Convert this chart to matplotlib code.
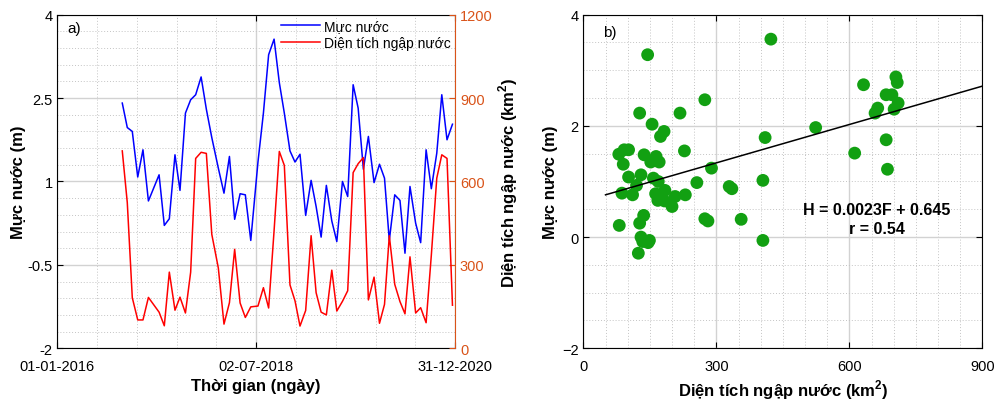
import matplotlib
matplotlib.use("Agg")
import matplotlib.pyplot as plt
import matplotlib.dates as mdates
import numpy as np
import pandas as pd

plt.rcParams['font.family'] = ['Liberation Sans', 'DejaVu Sans']
plt.rcParams['mathtext.fontset'] = 'custom'
plt.rcParams['mathtext.rm'] = 'Liberation Sans'
plt.rcParams['mathtext.bf'] = 'Liberation Sans:bold'

# ngay chup anh
ngay = ['2016-10-25', '2016-11-17', '2016-12-10', '2017-01-04', '2017-01-28', '2017-02-22',
        '2017-04-12', '2017-05-06', '2017-05-29', '2017-06-24', '2017-07-17', '2017-08-11',
        '2017-09-04', '2017-09-27', '2017-10-22', '2017-11-15', '2017-12-10', '2018-01-09',
        '2018-02-04', '2018-03-01', '2018-03-25', '2018-04-19', '2018-05-13', '2018-06-07',
        '2018-07-10', '2018-08-04', '2018-08-28', '2018-09-22', '2018-10-16', '2018-11-08',
        '2018-12-04', '2018-12-27', '2019-01-19', '2019-02-14', '2019-03-11', '2019-04-03',
        '2019-04-26', '2019-05-20', '2019-06-14', '2019-07-07', '2019-08-02', '2019-08-26',
        '2019-09-20', '2019-10-13', '2019-11-06', '2019-11-29', '2019-12-25', '2020-01-19',
        '2020-02-11', '2020-03-04', '2020-03-29', '2020-04-22', '2020-05-15', '2020-06-07',
        '2020-07-03', '2020-07-26', '2020-08-20', '2020-09-13', '2020-10-08', '2020-10-31',
        '2020-11-24', '2020-12-19']

# muc nuoc (m)
muc_nuoc = [2.41, 1.97, 1.90, 1.08, 1.57, 0.65, 1.12, 0.21, 0.33, 1.48, 0.84, 2.23,
            2.47, 2.56, 2.88, 2.30, 1.79, 1.24, 0.79, 1.45, 0.32, 0.78, 0.76, -0.06,
            1.35, 2.23, 3.28, 3.56, 2.78, 2.23, 1.55, 1.35, 1.49, 0.39, 1.02, 0.55,
            0.00, 0.93, 0.29, -0.08, 1.00, 0.73, 2.74, 2.32, 1.22, 1.81, 0.98, 1.31,
            1.06, -0.06, 0.76, 0.66, -0.29, 0.91, 0.25, -0.10, 1.57, 0.87, 1.51, 2.56,
            1.75, 2.03]

# dien tich ngap nuoc (km2)
dien_tich = [710, 524, 182, 102, 102, 183, 130, 81, 274, 137, 184, 127,
             274, 683, 705, 701, 410, 289, 87, 164, 356, 163, 111, 149,
             152, 218, 145, 423, 708, 658, 228, 171, 80, 136, 405, 200,
             130, 120, 281, 134, 169, 207, 632, 664, 686, 174, 256, 90,
             158, 405, 230, 168, 124, 329, 127, 146, 92, 335, 612, 696,
             683, 155]

# H = a*F + b
a_hs = 0.0023
b_hs = 0.645
r_hs = 0.54

moc_x = ['2016-01-01', '2018-07-02', '2020-12-31']

cam = '#D95319'
luoi_chinh = dict(color='#d2d2d2', lw=1.0, ls='-')
luoi_phu = dict(color='#c4c4c4', lw=0.7, ls=(0, (1, 2)))

fig = plt.figure(figsize=(9.96, 4.02), dpi=100)

# ---- a) chuoi thoi gian ----
ax1 = fig.add_axes([0.0576, 0.1311, 0.3993, 0.8299])
ax2 = ax1.twinx()

t = pd.to_datetime(ngay)
l1, = ax1.plot(t, muc_nuoc, color='blue', lw=1.1, label='Mực nước')
l2, = ax2.plot(t, dien_tich, color='red', lw=1.1, label='Diện tích ngập nước')

x0 = mdates.date2num(pd.Timestamp(moc_x[0]))
x1 = mdates.date2num(pd.Timestamp(moc_x[-1]))
ax1.set_xlim(x0, x1)
ax1.set_xticks(mdates.date2num(pd.to_datetime(moc_x)))
ax1.xaxis.set_major_formatter(mdates.DateFormatter('%d-%m-%Y'))
ax1.set_xticks(np.linspace(x0, x1, 11), minor=True)

ax1.set_ylim(-2, 4)
ax1.set_yticks([-2, -0.5, 1, 2.5, 4])
ax1.set_yticklabels(['-2', '-0.5', '1', '2.5', '4'])
ax1.set_yticks(np.arange(-2, 4.01, 0.3), minor=True)

ax2.set_ylim(0, 1200)
ax2.set_yticks([0, 300, 600, 900, 1200])

ax1.set_axisbelow(True)
ax1.grid(which='major', **luoi_chinh)
ax1.grid(which='minor', **luoi_phu)

ax1.tick_params(which='major', direction='in', top=True, length=4, labelsize=10.5)
ax1.tick_params(axis='x', which='major', pad=8)
ax1.tick_params(which='minor', length=0)
ax2.tick_params(which='major', direction='in', length=4, labelsize=10.5, colors=cam)
ax2.tick_params(which='minor', length=0)
ax1.spines['right'].set_visible(False)
ax2.spines['right'].set_color(cam)
for sp in ['left', 'top', 'bottom']:
    ax2.spines[sp].set_visible(False)

ax1.set_xlabel('Thời gian (ngày)', fontsize=12, fontweight='bold', labelpad=3)
ax1.set_ylabel('Mực nước (m)', fontsize=12, fontweight='bold', labelpad=1)
ax2.set_ylabel('Diện tích ngập nước (km$^\\mathbf{2}$)', fontsize=12, fontweight='bold', labelpad=3)

ax2.legend(handles=[l1, l2], loc='upper right', frameon=False, fontsize=10,
           handlelength=2.8, handletextpad=0.3, labelspacing=0.25,
           borderaxespad=0.0, borderpad=0.3)
ax1.text(0.024, 0.98, 'a)', transform=ax1.transAxes, fontsize=11, va='top')

# ---- b) tuong quan ----
ax3 = fig.add_axes([0.5857, 0.1311, 0.4006, 0.8299])
ax3.scatter(dien_tich, muc_nuoc, s=85, color='#12a012', edgecolors='none', zorder=3)
xf = np.array([50, 900])
ax3.plot(xf, a_hs * xf + b_hs, color='black', lw=1.1, zorder=4)

ax3.set_xlim(0, 900)
ax3.set_ylim(-2, 4)
ax3.set_xticks([0, 300, 600, 900])
ax3.set_yticks([-2, 0, 2, 4])
ax3.set_xticks(np.arange(0, 901, 50), minor=True)
ax3.set_yticks(np.arange(-2, 4.01, 0.5), minor=True)
ax3.set_axisbelow(True)
ax3.grid(which='major', **luoi_chinh)
ax3.grid(which='minor', **luoi_phu)
ax3.tick_params(which='major', direction='in', top=True, right=True, length=4, labelsize=10.5)
ax3.tick_params(axis='x', which='major', pad=8)
ax3.tick_params(which='minor', length=0)

ax3.set_xlabel('Diện tích ngập nước (km$^\\mathbf{2}$)', fontsize=12, fontweight='bold', labelpad=3)
ax3.set_ylabel('Mực nước (m)', fontsize=12, fontweight='bold', labelpad=3)
ax3.text(662, 0.33, 'H = %.4fF + %.3f\nr = %.2f' % (a_hs, b_hs, r_hs), fontsize=11.5,
         fontweight='bold', ha='center', va='center', multialignment='center', linespacing=1.35)
ax3.text(0.05, 0.97, 'b)', transform=ax3.transAxes, fontsize=11, va='top')

fig.savefig('out.png', dpi=100)
